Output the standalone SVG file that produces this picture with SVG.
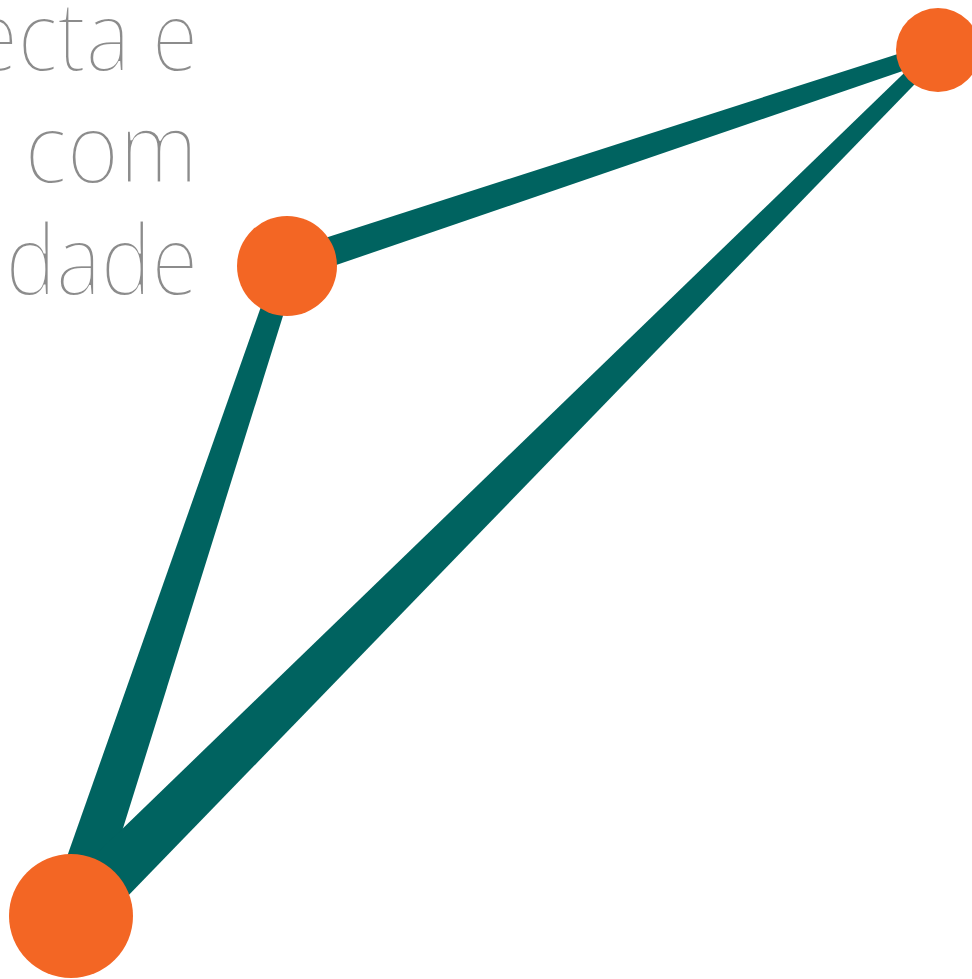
<svg xmlns="http://www.w3.org/2000/svg" width="972" height="979" viewBox="0 0 972 979">
  <style>
    .edge { fill: #006360; stroke: none; }
    .node { fill: #F36624; stroke: none; }
    .label { font-family: "Open Sans", "Lato", "Liberation Sans", sans-serif; font-weight: 300; font-size: 97px; fill: #8c8c8c; stroke: #ffffff; stroke-width: 2; text-anchor: end; }
  </style>
  <rect x="0" y="0" width="972" height="979" fill="#ffffff"/>
  <g id="text">
    <text class="label" x="0" y="71" transform="translate(198,0) scale(0.865,1)">ecta e</text>
    <text class="label" x="0" y="183" transform="translate(198,0) scale(0.92,1)">com</text>
    <text class="label" x="0" y="295" transform="translate(198,0) scale(0.875,1)">dade</text>
  </g>
  <g id="edges">
    <polygon class="edge" points="291.72,280.24 940.68,58.07 935.32,41.93 282.28,251.76"/>
    <polygon class="edge" points="297.44,269.47 93.30,923.41 48.70,908.59 276.56,262.53"/>
    <polygon class="edge" points="90.08,935.10 942.95,54.95 933.05,45.05 51.92,896.90"/>
  </g>
  <g id="node-top-right"><circle class="node" cx="938" cy="50" r="42"/></g>
  <g id="node-middle"><circle class="node" cx="287" cy="266" r="50"/></g>
  <g id="node-bottom-left"><circle class="node" cx="71" cy="916" r="62"/></g>
</svg>
